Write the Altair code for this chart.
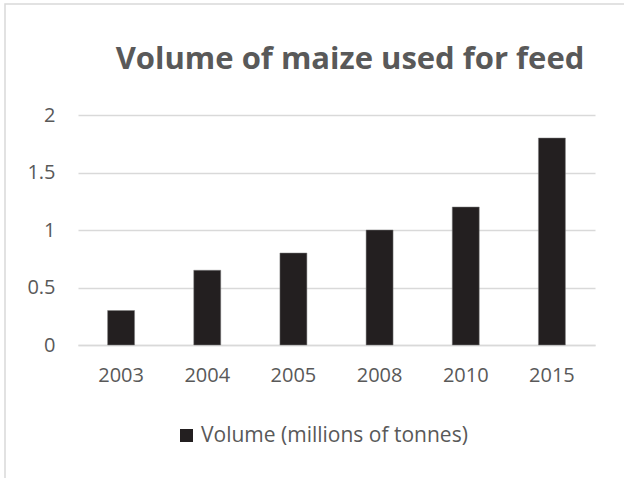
import altair as alt
import pandas as pd

years = ["2003", "2004", "2005", "2008", "2010", "2015"]
volumes = [0.3, 0.65, 0.8, 1.0, 1.2, 1.8]
series = "Volume (millions of tonnes)"
y_ticks = [0, 0.5, 1, 1.5, 2]
chart_title = "Volume of maize used for feed"

df = pd.DataFrame({"Year": years, "Volume": volumes, "Series": [series] * len(years)})

TEXT = "#595959"
GRID = "#d9d9d9"
FONT = "Open Sans"

border = alt.Chart(pd.DataFrame({"a": [0]})).mark_rect(
    fill=None, stroke=GRID, strokeWidth=1.5
).encode(
    x=alt.value(-73), y=alt.value(-111), x2=alt.value(700), y2=alt.value(600)
)

title = alt.Chart(pd.DataFrame({"t": [chart_title]})).mark_text(
    font=FONT, fontSize=31, fontWeight="bold", color=TEXT,
    align="center", baseline="alphabetic"
).encode(
    text="t:N", x=alt.value(272), y=alt.value(-46)
)

bars = alt.Chart(df).mark_bar(stroke="#7f7f7f", strokeWidth=0.5).encode(
    x=alt.X("Year:N", sort=years,
            scale=alt.Scale(paddingInner=0.687, paddingOuter=0.3435),
            axis=alt.Axis(title=None, labelAngle=0, ticks=False, domain=True,
                          domainColor=GRID, domainWidth=1.5, labelColor=TEXT,
                          labelFont=FONT, labelFontSize=20, labelPadding=20)),
    y=alt.Y("Volume:Q", scale=alt.Scale(domain=[0, 2]),
            axis=alt.Axis(title=None, values=y_ticks, format="~g", ticks=False, domain=False,
                          gridColor=GRID, gridWidth=1.5, labelColor=TEXT,
                          labelFont=FONT, labelFontSize=20, labelPadding=23)),
    color=alt.Color("Series:N", scale=alt.Scale(range=["#231f20"]),
                    legend=alt.Legend(title=None, orient="none", legendX=98, legendY=310,
                                      symbolType="square", symbolSize=169,
                                      symbolStrokeWidth=0, labelColor=TEXT, labelLimit=0,
                                      labelFont=FONT, labelFontSize=21, labelOffset=4)),
)

chart = alt.layer(border, title, bars).properties(
    width=517, height=230,
    autosize=alt.AutoSizeParams(type="none"),
    padding={"left": 78, "top": 115, "right": 29, "bottom": 133},
).configure(background="white").configure_view(stroke="transparent", strokeWidth=0)

chart.save("out.html", embed_options={"renderer": "svg", "actions": False})
